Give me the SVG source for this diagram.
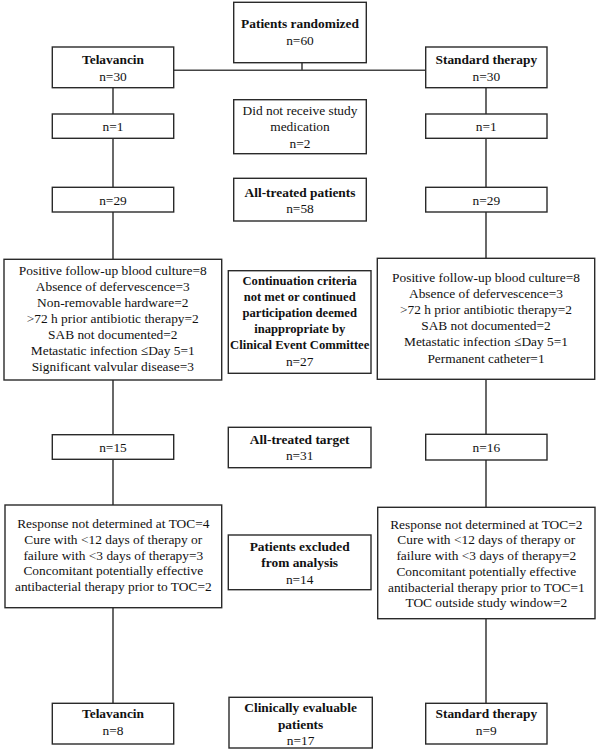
<svg xmlns="http://www.w3.org/2000/svg" width="600" height="749" viewBox="0 0 600 749">
<style>
.box{fill:#fff;stroke:#2a2a2a;stroke-width:1.4}
.ln{stroke:#444;stroke-width:1.6;fill:none}
text{font-family:"Liberation Serif","Times New Roman",serif;font-size:13.4px;fill:#111;text-anchor:middle}
.b{font-weight:bold}
.s{font-size:12.6px}
</style>
<rect width="600" height="749" fill="#fff"/>
<g id="connectors">
<path class="ln" d="M302,62.7V70.3M173.7,70.3H425.7"/>
<path class="ln" d="M113,87.7V114M113,138.3V187.3M113,212V259.3M113,380V434.7M113,459.3V505M113,607.7V703.3"/>
<path class="ln" d="M486,87.7V114M486,138.3V187.3M486,212V258.3M486,379.3V434.3M486,460V507.3M486,618.7V703.3"/>
</g>
<g id="randomized"><rect class="box" x="233.7" y="2.3" width="132.6" height="60.4"/><text class="b" x="300" y="28">Patients randomized</text><text x="300" y="44.5">n=60</text></g>
<g id="tel1"><rect class="box" x="52.3" y="47" width="121.4" height="40.7"/><text class="b" x="113" y="64">Telavancin</text><text x="113" y="80.5">n=30</text></g>
<g id="std1"><rect class="box" x="425.7" y="47" width="121.3" height="40.7"/><text class="b" x="486.3" y="64">Standard therapy</text><text x="486.3" y="80.5">n=30</text></g>
<g id="tel2"><rect class="box" x="52.3" y="114" width="121.4" height="24.3"/><text x="113" y="131">n=1</text></g>
<g id="std2"><rect class="box" x="425.7" y="114" width="121.3" height="24.3"/><text x="486.3" y="131">n=1</text></g>
<g id="notreceived"><rect class="box" x="233.7" y="99.7" width="132.6" height="54"/><text x="300" y="114.5">Did not receive study</text><text x="300" y="131">medication</text><text x="300" y="147.5">n=2</text></g>
<g id="tel3"><rect class="box" x="52.3" y="187.3" width="121.4" height="24.7"/><text x="113" y="204.5">n=29</text></g>
<g id="std3"><rect class="box" x="425.7" y="187.3" width="121.3" height="24.7"/><text x="486.3" y="204.5">n=29</text></g>
<g id="alltreated"><rect class="box" x="233.7" y="178.3" width="132.6" height="42.7"/><text class="b" x="300" y="197">All-treated patients</text><text x="300" y="212.8">n=58</text></g>
<g id="tel4"><rect class="box" x="4" y="259.3" width="217.7" height="120.7"/>
<text x="112.8" y="275">Positive follow-up blood culture=8</text>
<text x="112.8" y="291">Absence of defervescence=3</text>
<text x="112.8" y="307">Non-removable hardware=2</text>
<text x="112.8" y="323">&gt;72 h prior antibiotic therapy=2</text>
<text x="112.8" y="339">SAB not documented=2</text>
<text x="112.8" y="355">Metastatic infection ≤Day 5=1</text>
<text x="112.8" y="371">Significant valvular disease=3</text></g>
<g id="continuation"><rect class="box" x="228.3" y="270.7" width="142.7" height="102.6"/>
<text class="b s" x="299.7" y="284.5">Continuation criteria</text>
<text class="b s" x="299.7" y="300.8">not met or continued</text>
<text class="b s" x="299.7" y="316.7">participation deemed</text>
<text class="b s" x="299.7" y="333">inappropriate by</text>
<text class="b s" x="299.7" y="349.2">Clinical Event Committee</text>
<text x="299.7" y="365.5">n=27</text></g>
<g id="std4"><rect class="box" x="377.3" y="258.3" width="217.4" height="121"/>
<text x="486" y="282">Positive follow-up blood culture=8</text>
<text x="486" y="298">Absence of defervescence=3</text>
<text x="486" y="314">&gt;72 h prior antibiotic therapy=2</text>
<text x="486" y="330">SAB not documented=2</text>
<text x="486" y="346">Metastatic infection ≤Day 5=1</text>
<text x="486" y="362.5">Permanent catheter=1</text></g>
<g id="tel5"><rect class="box" x="52.3" y="434.7" width="121.4" height="24.6"/><text x="113" y="451.5">n=15</text></g>
<g id="std5"><rect class="box" x="425.7" y="434.3" width="121.3" height="25.7"/><text x="486.3" y="451.5">n=16</text></g>
<g id="alltarget"><rect class="box" x="228.3" y="427.3" width="142.7" height="40.4"/><text class="b" x="299.7" y="444">All-treated target</text><text x="299.7" y="459.5">n=31</text></g>
<g id="tel6"><rect class="box" x="5" y="505" width="216.7" height="102.7"/>
<text x="113.3" y="528">Response not determined at TOC=4</text>
<text x="113.3" y="543.8">Cure with &lt;12 days of therapy or</text>
<text x="113.3" y="559.6">failure with &lt;3 days of therapy=3</text>
<text x="113.3" y="575.4">Concomitant potentially effective</text>
<text x="113.3" y="591.2">antibacterial therapy prior to TOC=2</text></g>
<g id="excluded"><rect class="box" x="228.3" y="535" width="142.7" height="54.7"/><text class="b" x="299.7" y="551">Patients excluded</text><text class="b" x="299.7" y="567">from analysis</text><text x="299.7" y="583.5">n=14</text></g>
<g id="std6"><rect class="box" x="377.7" y="507.3" width="217.3" height="111.4"/>
<text x="486.3" y="528.5">Response not determined at TOC=2</text>
<text x="486.3" y="544.3">Cure with &lt;12 days of therapy or</text>
<text x="486.3" y="560">failure with &lt;3 days of therapy=2</text>
<text x="486.3" y="575.8">Concomitant potentially effective</text>
<text x="486.3" y="591.6">antibacterial therapy prior to TOC=1</text>
<text x="486.3" y="607.4">TOC outside study window=2</text></g>
<g id="tel7"><rect class="box" x="52.3" y="703.3" width="121.4" height="40.7"/><text class="b" x="113" y="718">Telavancin</text><text x="113" y="734.5">n=8</text></g>
<g id="evaluable"><rect class="box" x="229" y="697.3" width="143.3" height="50.7"/><text class="b" x="300.6" y="712">Clinically evaluable</text><text class="b" x="300.6" y="728.5">patients</text><text x="300.6" y="744.5">n=17</text></g>
<g id="std7"><rect class="box" x="425.7" y="703.3" width="121.3" height="40.7"/><text class="b" x="486.3" y="718">Standard therapy</text><text x="486.3" y="734.5">n=9</text></g>
</svg>
